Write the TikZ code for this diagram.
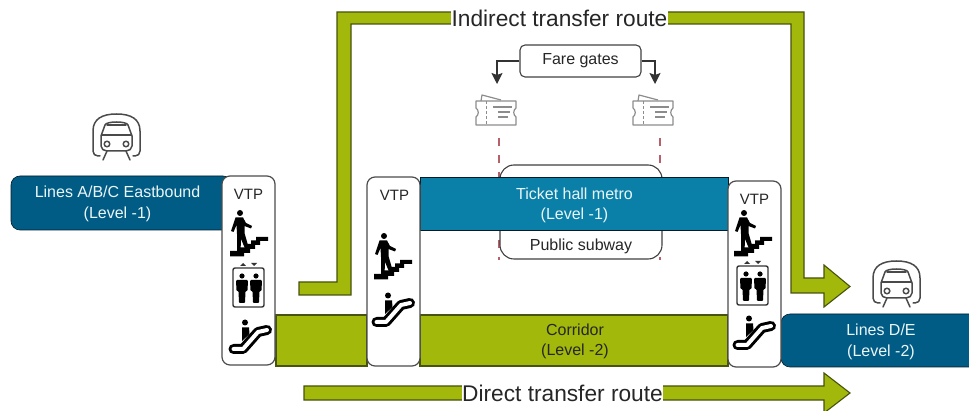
\documentclass[tikz,border=0pt]{standalone}
\usepackage{fontspec}
\setmainfont{Liberation Sans}
\usetikzlibrary{arrows.meta}
\definecolor{navy}{HTML}{005C85}
\definecolor{teal}{HTML}{0A80A8}
\definecolor{lime}{HTML}{A2B80A}
\definecolor{limedk}{HTML}{47530F}
\definecolor{dash}{HTML}{B8606A}
\definecolor{icon}{HTML}{4A4A4A}
\tikzset{
  x=1pt,y=-1pt,
  bluebox/.style={draw=black!70!navy,line width=.6pt,inner sep=0pt},
  bluetext/.style={text=white!92!teal,align=center,font=\fontsize{16}{20.5}\selectfont,inner sep=0pt},
  greenshape/.style={fill=lime,draw=limedk,line width=1.1pt,line join=miter},
  vtpbox/.style={draw=black!70,line width=1.2pt,fill=white,rounded corners=8pt},
  lab/.style={inner sep=0pt,text=black!85},
  route/.style={fill=white,inner sep=.5pt,font=\fontsize{22.7}{26}\selectfont,text=black!85},
  fare/.style={draw=black!75,line width=1.1pt,rounded corners=5pt,inner sep=0pt,font=\fontsize{16}{18}\selectfont,text=black!85},
  farearrow/.style={draw=black!80,line width=1.2pt,-{Stealth[length=11pt,width=11pt,inset=2pt]}},
  dashline/.style={draw=dash,line width=2.2pt,dash pattern=on 8pt off 9pt},
  pics/stairman/.style={code={
    \fill[black] (10,3) circle (3);
    \fill[black] (5.5,7.5) -- (13,7.5) -- (16,13) -- (22,16) -- (21,18.5) -- (14.5,16) -- (14.5,23) -- (18.5,37) -- (15,38.5) -- (11,29) -- (10.5,42) -- (7,42) -- (7,24) -- (6.5,15) -- (3.5,22) -- (1,21) -- cycle;
    \fill[black] (0,41) -- (10,41) -- (10,37.5) -- (16,37.5) -- (16,34) -- (21,34) -- (21,30.5) -- (26,30.5) -- (26,27) -- (38,27) -- (38,31) -- (30,31) -- (30,35) -- (25,35) -- (25,39) -- (20,39) -- (20,43) -- (14,43) -- (14,46.5) -- (0,46.5) -- cycle;
  }},
  pics/lift/.style={code={
    \draw[black!80,line width=1.4pt,rounded corners=2pt] (1,4) rectangle (32,43);
    \fill[black!80] (11,-1) -- (14,2) -- (8,2) -- cycle;
    \fill[black!80] (19,-1) -- (25,-1) -- (22,2) -- cycle;
    \foreach \q in {10,24}{
      \fill[black] (\q,12) circle (2.6);
      \fill[black,rounded corners=1pt] (\q-6,16) -- (\q+6,16) -- (\q+5.5,27) -- (\q+3.5,27) -- (\q+3,39) -- (\q-3,39) -- (\q-3.5,27) -- (\q-5.5,27) -- cycle;
    }
  }},
  pics/escal/.style={code={
    \draw[black,line width=10pt,line cap=round,line join=round] (5.5,28) -- (15,28) -- (30,11) -- (39,9);
    \draw[white,line width=4pt,line cap=round,line join=round] (5.5,28) -- (15,28) -- (30,11) -- (39,9);
    \fill[black] (17,1.5) circle (3);
    \fill[black] (14,6.5) -- (21,6.5) -- (21.5,13) -- (14,20) -- cycle;
  }},
  pics/metro/.style={code={
    \begin{scope}[icon,line width=1.5pt,line cap=round,line join=round]
      \draw (7,43) -- (5,43) .. controls (2,43) and (0,41) .. (0,38) -- (0,18) .. controls (0,6) and (9,1) .. (23.5,1) .. controls (38,1) and (47,6) .. (47,18) -- (47,38) .. controls (47,41) and (45,43) .. (42,43) -- (40,43);
      \draw (8,33) -- (8,23) -- (12,12) .. controls (13,8) and (34,8) .. (35,12) -- (39,23) -- (39,33) .. controls (39,36) and (36,38) .. (33,38) -- (14,38) .. controls (11,38) and (8,36) .. (8,33) -- cycle;
      \draw (8.5,22) -- (38.5,22);
      \draw (14,12) -- (33,12);
      \draw (14,31) circle (2.8);
      \draw (33,31) circle (2.8);
      \draw (14,38) -- (10,47);
      \draw (33,38) -- (37,47);
    \end{scope}
  }},
  pics/tick/.style={code={
    \begin{scope}[black!45,line width=1.2pt,line join=round]
      \draw (0,7) -- (40,7) -- (40,14) .. controls (37,16) and (37,21) .. (40,23) -- (40,31) -- (0,31) -- (0,23) .. controls (3,21) and (3,16) .. (0,14) -- cycle;
      \draw (5,7) -- (6,1) -- (25,6);
      \draw[densely dashed,line width=.9pt] (10,7) -- (10,31);
      \draw (17,13) -- (36,13) (22,18) -- (34,18) (22,23) -- (32,23);
    \end{scope}
  }}
}
\begin{document}
\begin{tikzpicture}
\useasboundingbox (0,0) rectangle (969,411);
% public subway + dashed guides
\draw[dashline] (499,138) -- (499,260);
\draw[dashline] (660,138) -- (660,260);
\node[draw=black!75,line width=1.1pt,rounded corners=14pt,minimum width=162pt,minimum height=94pt,fill=white,inner sep=0pt] (subway) at (581,212) {};
\node[lab,font=\fontsize{16}{18}\selectfont] (subwaytxt) at (581,246) {Public subway};
% green blocks
\node[greenshape,minimum width=91pt,minimum height=51pt,inner sep=0pt] (link) at (321.5,340.5) {};
\node[greenshape,minimum width=308pt,minimum height=51pt,inner sep=0pt] (corridor) at (574,340.5) {};
\node[lab,align=center,font=\fontsize{16}{20.5}\selectfont] (corridortxt) at (575,341.5) {Corridor\\(Level -2)};
% blue boxes
\node[bluebox,fill=teal,minimum width=308pt,minimum height=53pt] at (574,203.5) (hall) {};
\node[bluetext] (halltxt) at (574.5,205.5) {Ticket hall metro\\(Level -1)};
\path[bluebox,draw=black!70!navy,fill=navy,rounded corners=9pt] (11,176) rectangle (232,230);
\node[bluetext] (abc) at (117.5,204) {Lines A/B/C Eastbound\\(Level -1)};
\path[bluebox,draw=black!70!navy,fill=navy,rounded corners=9pt] (781,314) rectangle (985,367);
\node[bluetext] (de) at (881,342) {Lines D/E\\(Level -2)};
% VTP boxes
\draw[vtpbox] (222,176) rectangle (275,365);
\node[lab,font=\fontsize{15}{18}\selectfont] (vtpa) at (248.5,194) {VTP};
\pic at (230,210) {stairman};
\pic at (232,264) {lift};
\pic at (228,321) {escal};
\draw[vtpbox] (367,177) rectangle (420,366);
\node[lab,font=\fontsize{15}{18}\selectfont] (vtpb) at (394.5,195) {VTP};
\pic at (374,233) {stairman};
\pic at (371,294) {escal};
\draw[vtpbox] (728,181) rectangle (781,367);
\node[lab,font=\fontsize{15}{18}\selectfont] (vtpc) at (754.5,199) {VTP};
\pic at (734,210) {stairman};
\pic at (736,262) {lift};
\pic at (732,317) {escal};
% routes
\draw[greenshape] (299,282) -- (337,282) -- (337,12) -- (804,12) -- (804,278) -- (824,278) -- (824,265) -- (850,286.5) -- (824,307) -- (824,293) -- (791,293) -- (791,24) -- (351,24) -- (351,295) -- (299,295) -- cycle;
\node[route] (indirect) at (559.5,18) {Indirect transfer route};
\draw[greenshape] (304,386) -- (824,386) -- (824,373) -- (850,393) -- (824,413) -- (824,400) -- (304,400) -- cycle;
\node[route] (direct) at (562.5,393) {Direct transfer route};
% fare gates
\node[fare,minimum width=121pt,minimum height=32pt] (fg) at (580.5,61) {Fare gates};
\coordinate (tl) at (497,84);
\coordinate (tr) at (655,84);
\draw[farearrow] (fg.west) -| (tl);
\draw[farearrow] (fg.east) -| (tr);
\pic at (476,94) {tick};
\pic at (633,94) {tick};
% trains
\pic at (93,113) {metro};
\pic at (873,260) {metro};
\end{tikzpicture}
\end{document}
